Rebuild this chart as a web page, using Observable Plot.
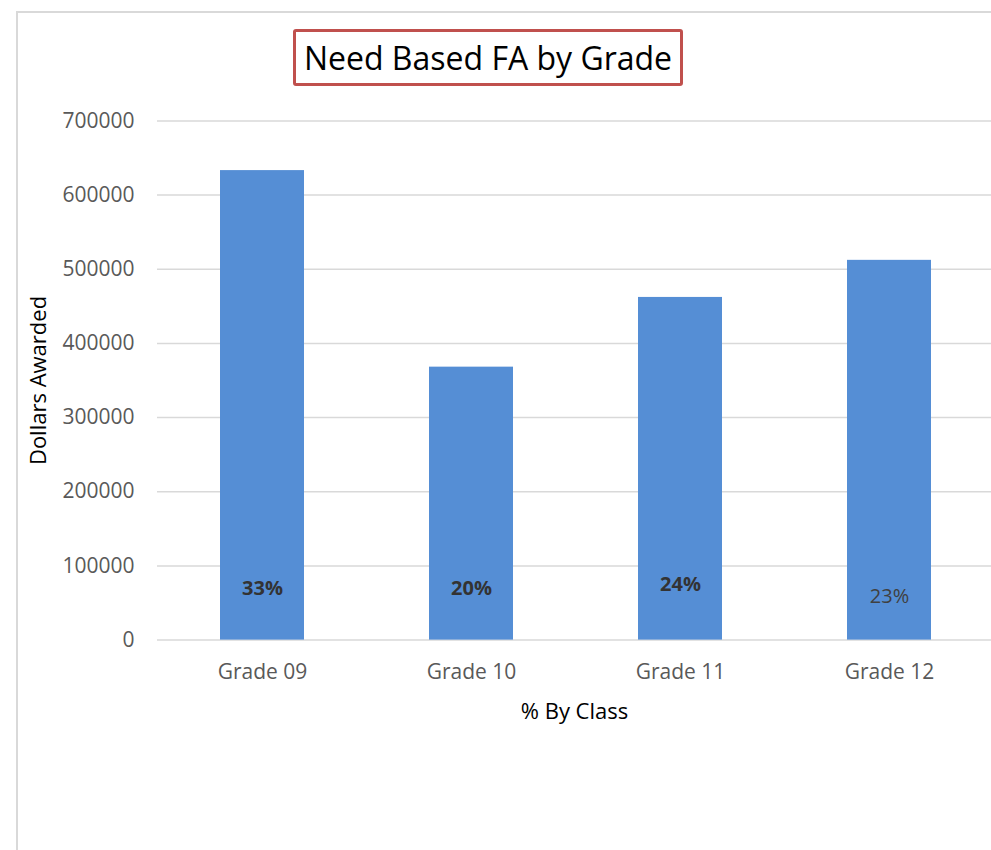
<!DOCTYPE html>
<html>
<head>
<meta charset="utf-8">
<script src="https://cdn.jsdelivr.net/npm/d3@7"></script>
<script src="https://cdn.jsdelivr.net/npm/@observablehq/plot@0.6"></script>
<style>
  html, body { margin: 0; padding: 0; background: #fff; overflow: hidden; }
  #wrap { position: relative; width: 991px; height: 850px; overflow: hidden; background: #fff; }
  #frame { position: absolute; left: 16px; top: 11px; width: 1200px; height: 1200px;
           border-left: 2px solid #D9D9D9; border-top: 2px solid #D9D9D9; box-sizing: border-box; }
  #chart { position: absolute; left: 0; top: 0; }
  #title { position: absolute; left: 293px; top: 29px; width: 390px; height: 57px; box-sizing: border-box;
           border: 3px solid #C0504D; border-radius: 3px; background: #fff;
           font-family: "Open Sans", sans-serif; font-size: 32px; color: #000;
           display: flex; align-items: center; justify-content: center; white-space: nowrap; }
</style>
</head>
<body>
<div id="wrap">
  <div id="frame"></div>
  <div id="chart"></div>
  <div id="title">Need Based FA by Grade</div>
</div>
<script>
// ---- data ----
const grades = ["Grade 09", "Grade 10", "Grade 11", "Grade 12"];
const dollars = [633000, 368000, 462000, 512000];
const percents = ["33%", "20%", "24%", "23%"];
const yTicks = [0, 100000, 200000, 300000, 400000, 500000, 600000, 700000];
const yTitle = "Dollars Awarded";
const xTitle = "% By Class";

// ---- rendering ----
const rows = grades.map((g, i) => ({grade: g, value: dollars[i], pct: percents[i]}));
// where each percentage label sits (in dollars), as placed in the original
const labelAt = {"Grade 09": 70000, "Grade 10": 70000, "Grade 11": 74500, "Grade 12": 58500};
const boldLabels = new Set(["Grade 09", "Grade 10", "Grade 11"]);

const chart = Plot.plot({
  width: 991,
  height: 850,
  marginLeft: 157,
  marginRight: 0,
  marginTop: 120.4,
  marginBottom: 210.4,
  style: {fontFamily: "Open Sans, sans-serif", fontSize: "21px", color: "#595959", background: "transparent"},
  x: {domain: grades, range: [156.75, 994.75], paddingInner: 0.6, paddingOuter: 0.3,
      tickSize: 0, tickPadding: 24, label: null},
  y: {domain: [0, 700000], ticks: yTicks, tickFormat: "d", tickSize: 0, tickPadding: 23, label: null},
  marks: [
    Plot.ruleY(yTicks, {stroke: "#D9D9D9", strokeWidth: 1.5}),
    Plot.barY(rows, {x: "grade", y: "value", fill: "#558ED5"}),
    Plot.text(rows.filter(d => boldLabels.has(d.grade)), {
      x: "grade", y: d => labelAt[d.grade], text: "pct",
      fontWeight: "bold", fontSize: 20, fill: "#333333"
    }),
    Plot.text(rows.filter(d => !boldLabels.has(d.grade)), {
      x: "grade", y: d => labelAt[d.grade], text: "pct",
      fontWeight: "normal", fontSize: 20, fill: "#404040"
    }),
    Plot.text([yTitle], {text: d => d, frameAnchor: "left", dx: -119, rotate: -90,
      textAnchor: "middle", lineAnchor: "middle", fontSize: 22, fill: "#000"}),
    Plot.text([xTitle], {text: d => d, frameAnchor: "bottom", dy: 72,
      textAnchor: "middle", lineAnchor: "middle", fontSize: 22, fill: "#000"})
  ]
});
document.getElementById("chart").appendChild(chart);
</script>
</body>
</html>
